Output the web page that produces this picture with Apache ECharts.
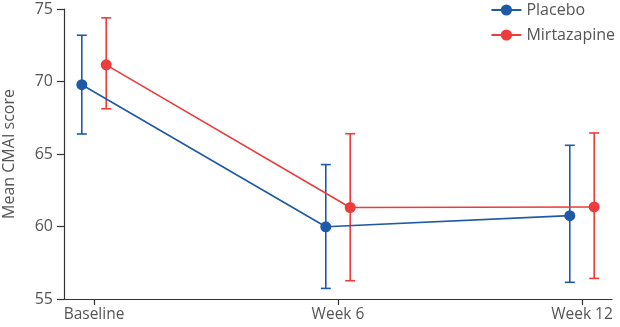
<!DOCTYPE html>
<html><head><meta charset="utf-8">
<script src="https://cdn.jsdelivr.net/npm/echarts@6/dist/echarts.min.js"></script>
<style>html,body{margin:0;padding:0;background:#fff}#c{width:620px;height:327px}</style>
</head><body><div id="c"></div>
<script>
const categories = ['Baseline', 'Week 6', 'Week 12'];
const placeboMean = [69.78, 59.98, 60.75];
const placeboLow = [66.38, 55.73, 56.15];
const placeboHigh = [73.19, 64.27, 65.6];
const mirtMean = [71.15, 61.31, 61.35];
const mirtLow = [68.12, 56.26, 56.42];
const mirtHigh = [74.39, 66.4, 66.45];
const yTicks = [55, 60, 65, 70, 75];
const offset = 0.05;

const blue = '#1f5aa6', red = '#ee3b3b';
const font = 'Open Sans';

function errSeries(name, low, high, color, dx) {
  return {
    type: 'custom', name: name + ' err', silent: true, z: 2,
    data: low.map((l, i) => [i + dx, l, high[i]]),
    renderItem: function (params, api) {
      const x = api.value(0);
      const lo = api.coord([x, api.value(1)]);
      const hi = api.coord([x, api.value(2)]);
      const w = 5;
      const st = { stroke: color, lineWidth: 1.6 };
      return { type: 'group', children: [
        { type: 'line', shape: { x1: lo[0], y1: lo[1], x2: hi[0], y2: hi[1] }, style: st },
        { type: 'line', shape: { x1: lo[0] - w, y1: lo[1], x2: lo[0] + w, y2: lo[1] }, style: st },
        { type: 'line', shape: { x1: hi[0] - w, y1: hi[1], x2: hi[0] + w, y2: hi[1] }, style: st }
      ]};
    }
  };
}

const chart = echarts.init(document.getElementById('c'));
chart.setOption({
  animation: false,
  textStyle: { fontFamily: font },
  grid: { left: 64, right: 8, top: 9, bottom: 28, outerBoundsMode: 'none', containLabel: false },
  legend: {
    orient: 'vertical', right: 0, top: -3, itemGap: 9,
    itemWidth: 30, itemHeight: 14,
    textStyle: { fontSize: 16, color: '#555', fontFamily: font },
    data: ['Placebo', 'Mirtazapine']
  },
  xAxis: {
    type: 'value', min: -0.123, max: 2.123,
    splitLine: { show: false },
    axisLine: { onZero: false, lineStyle: { color: '#333', width: 1.2 } },
    axisTick: { customValues: [0, 1, 2], length: 6, lineStyle: { color: '#333', width: 1.2 } },
    axisLabel: { customValues: [0, 1, 2], formatter: v => categories[Math.round(v)], color: '#555', fontSize: 15.5, margin: 8 }
  },
  yAxis: {
    type: 'value', min: 55, max: 75, interval: 5,
    name: 'Mean CMAI score', nameLocation: 'middle', nameGap: 47,
    nameTextStyle: { fontSize: 16, color: '#555' },
    splitLine: { show: false },
    axisLine: { show: true, onZero: false, lineStyle: { color: '#333', width: 1.2 } },
    axisTick: { show: true, length: 7, lineStyle: { color: '#333', width: 1.2 } },
    axisLabel: { color: '#555', fontSize: 16, margin: 11, formatter: v => yTicks.includes(v) ? String(v) : '' }
  },
  series: [
    errSeries('Placebo', placeboLow, placeboHigh, blue, -offset),
    errSeries('Mirtazapine', mirtLow, mirtHigh, red, offset),
    { type: 'line', name: 'Placebo', z: 3, data: placeboMean.map((v, i) => [i - offset, v]),
      symbol: 'circle', symbolSize: 11, itemStyle: { color: blue }, lineStyle: { color: blue, width: 1.6 } },
    { type: 'line', name: 'Mirtazapine', z: 3, data: mirtMean.map((v, i) => [i + offset, v]),
      symbol: 'circle', symbolSize: 11, itemStyle: { color: red }, lineStyle: { color: red, width: 1.6 } }
  ]
});
</script></body></html>
